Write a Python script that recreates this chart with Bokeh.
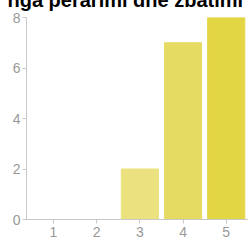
from bokeh.plotting import figure
from bokeh.models import ColumnDataSource, FixedTicker, Title, Range1d
from bokeh.embed import file_html
from bokeh.resources import INLINE

title_text = "nga perarimi dhe zbatimi"
categories = [1, 2, 3, 4, 5]
counts = [0, 0, 2, 7, 8]
bar_colors = ["#f1eaa8", "#eee594", "#ebe27f", "#e6db62", "#e3d645"]
y_ticks = [0, 2, 4, 6, 8]

src = ColumnDataSource(dict(x=categories, top=counts, color=bar_colors))

HIDDEN = 40  # part of the canvas pushed above the page top, so the title is clipped there

p = figure(width=248, height=242 + HIDDEN, output_backend="svg", toolbar_location=None,
           x_range=Range1d(0.375, 5.516), y_range=Range1d(0, 8),
           min_border_left=26, min_border_right=0, min_border_top=17 + HIDDEN, min_border_bottom=23)
p.margin = (-HIDDEN, 0, 0, 0)
p.title = Title(text=title_text, align="left", offset=-19, standoff=13,
                text_font="Liberation Sans", text_font_size="20px", text_font_style="bold",
                text_color="black")
p.outline_line_color = None
p.xgrid.visible = False
p.ygrid.visible = False

p.vbar(x="x", top="top", bottom=0, width=0.86, color="color", source=src)

for ax in (p.xaxis, p.yaxis):
    ax.axis_line_color = "#c8c8c8"
    ax.major_tick_line_color = "#c8c8c8"
    ax.minor_tick_line_color = None
    ax.major_tick_in = 0
    ax.major_tick_out = 4
    ax.major_label_text_color = "#999999"
    ax.major_label_text_font = "Liberation Sans"
    ax.major_label_text_font_size = "14px"

p.xaxis.ticker = FixedTicker(ticks=categories)
p.yaxis.ticker = FixedTicker(ticks=y_ticks)
p.xaxis.major_label_standoff = 3
p.yaxis.major_label_standoff = 2

open("out.html", "w").write(file_html(p, INLINE))
